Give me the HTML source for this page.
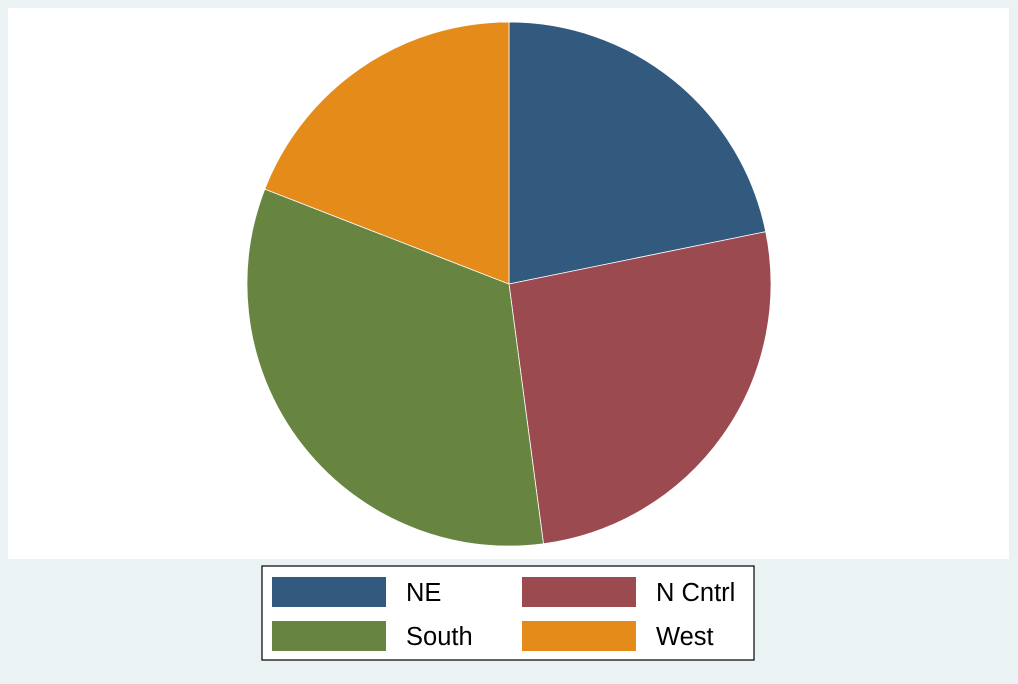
<!DOCTYPE html>
<html><head><meta charset="utf-8"><style>
html,body{margin:0;padding:0;background:#eaf2f3;}
#wrap{position:relative;width:1018px;height:679px;font-family:"Liberation Sans",sans-serif;}
</style></head><body>
<div id="wrap">
<svg id="svg" width="1018" height="679">
<rect x="0" y="0" width="1018" height="679" fill="#eaf2f3"/>
<rect x="8" y="8" width="1001" height="551" fill="#ffffff"/>
<g id="slices"></g>
<rect x="262" y="566" width="492" height="94" fill="#ffffff" stroke="#000" stroke-width="1.2"/>
<g id="legend"></g>
</svg>
</div>
<script>
const categories = ["NE", "N Cntrl", "South", "West"];
const values = [21.8, 26.1, 33.0, 19.1];
const colors = ["#325a7e", "#9b4a50", "#678541", "#e58b1a"];
const NS = "http://www.w3.org/2000/svg";
const cx = 509, cy = 284, r = 262;
const total = values.reduce((a, b) => a + b, 0);
const slices = document.getElementById("slices");
let a0 = 0;
function pt(a){ return [cx + r*Math.sin(a), cy - r*Math.cos(a)]; }
values.forEach((v, i) => {
  const a1 = a0 + v/total*2*Math.PI;
  const p0 = pt(a0), p1 = pt(a1);
  const large = (a1 - a0) > Math.PI ? 1 : 0;
  const path = document.createElementNS(NS, "path");
  path.setAttribute("d", `M${cx},${cy} L${p0[0]},${p0[1]} A${r},${r} 0 ${large} 1 ${p1[0]},${p1[1]} Z`);
  path.setAttribute("fill", colors[i]);
  path.setAttribute("stroke", "#ffffff");
  path.setAttribute("stroke-width", "0.8");
  
  
  slices.appendChild(path);
  a0 = a1;
});
const legend = document.getElementById("legend");
categories.forEach((c, i) => {
  const col = i % 2, row = Math.floor(i / 2);
  const x = 272 + col*250, y = 577 + row*44;
  const sw = document.createElementNS(NS, "rect");
  sw.setAttribute("x", x); sw.setAttribute("y", y);
  sw.setAttribute("width", 114); sw.setAttribute("height", 30);
  sw.setAttribute("fill", colors[i]);
  
  
  legend.appendChild(sw);
  const t = document.createElementNS(NS, "text");
  t.setAttribute("x", x + 134); t.setAttribute("y", y + 24);
  t.setAttribute("font-size", "25.5");
  t.setAttribute("font-family", "Liberation Sans, sans-serif");
  t.setAttribute("fill", "#000");
  t.textContent = c;
  
  
  legend.appendChild(t);
});
</script>
</body></html>
